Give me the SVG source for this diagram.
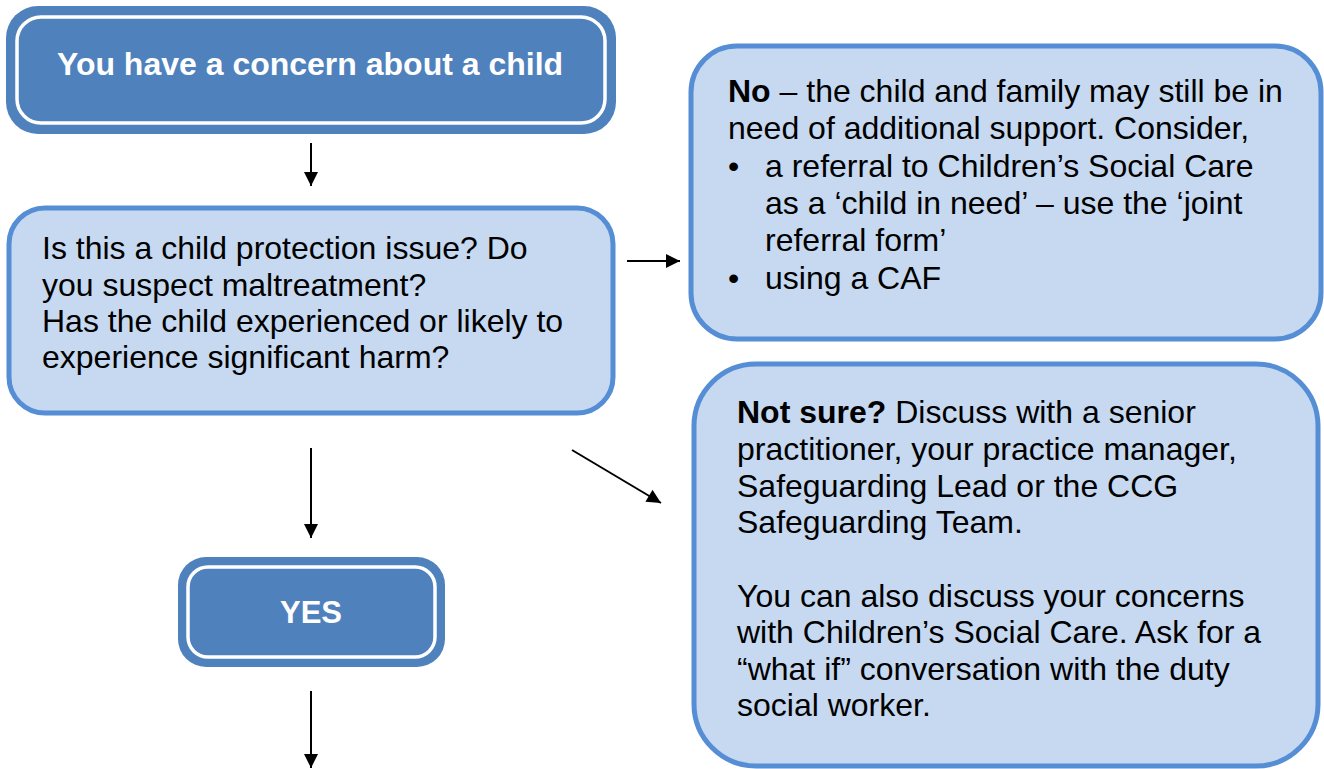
<svg xmlns="http://www.w3.org/2000/svg" width="1324" height="769" viewBox="0 0 1324 769">
<defs>
<marker id="ah" viewBox="0 0 10 10" refX="10" refY="5" markerWidth="16" markerHeight="14" markerUnits="userSpaceOnUse" orient="auto">
<path d="M0,0 L10,5 L0,10 z" fill="#000"/>
</marker>
<style>
.dark{fill:#4f81bd;}
.inner{fill:none;stroke:#fff;stroke-width:3.5;}
.light{fill:#c6d9f1;stroke:#558ed5;stroke-width:5;}
.t{font-family:"Liberation Sans",Arial,sans-serif;font-size:32px;fill:#000;}
.w{font-family:"Liberation Sans",Arial,sans-serif;font-weight:bold;fill:#fff;text-anchor:middle;}
.b{font-weight:bold;}
.c{stroke:#000;stroke-width:2;fill:none;}
</style>
</defs>
<rect width="1324" height="769" fill="#fff"/>
<g id="concern">
<rect class="dark" x="6" y="6" width="610" height="128" rx="32"/>
<rect class="inner" x="17" y="17" width="588" height="106" rx="24"/>
<text class="w" x="310" y="75" font-size="32">You have a concern about a child</text>
</g>
<g id="question">
<rect class="light" x="9" y="208" width="604" height="205" rx="36"/>
<text class="t" x="42" y="259">Is this a child protection issue? Do</text>
<text class="t" x="42" y="296">you suspect maltreatment?</text>
<text class="t" x="42" y="332">Has the child experienced or likely to</text>
<text class="t" x="42" y="368">experience significant harm?</text>
</g>
<g id="no">
<rect class="light" x="691" y="46" width="630" height="293" rx="46"/>
<text class="t" x="728" y="102"><tspan class="b">No</tspan> – the child and family may still be in</text>
<text class="t" x="728" y="139">need of additional support. Consider,</text>
<text class="t" x="728" y="177">•</text>
<text class="t" x="765" y="177">a referral to Children’s Social Care</text>
<text class="t" x="765" y="214">as a ‘child in need’ – use the ‘joint</text>
<text class="t" x="765" y="251">referral form’</text>
<text class="t" x="728" y="289">•</text>
<text class="t" x="765" y="289">using a CAF</text>
</g>
<g id="notsure">
<rect class="light" x="694" y="364" width="624" height="402" rx="62"/>
<text class="t" x="737" y="423"><tspan class="b">Not sure?</tspan> Discuss with a senior</text>
<text class="t" x="737" y="460">practitioner, your practice manager,</text>
<text class="t" x="737" y="497">Safeguarding Lead or the CCG</text>
<text class="t" x="737" y="533">Safeguarding Team.</text>
<text class="t" x="737" y="607">You can also discuss your concerns</text>
<text class="t" x="737" y="643">with Children’s Social Care. Ask for a</text>
<text class="t" x="737" y="680">“what if” conversation with the duty</text>
<text class="t" x="737" y="716">social worker.</text>
</g>
<g id="yes">
<rect class="dark" x="178" y="557" width="267" height="110" rx="28"/>
<rect class="inner" x="188" y="567" width="247" height="90" rx="20"/>
<text class="w" x="311" y="623" font-size="31">YES</text>
</g>
<g id="connectors">
<line class="c" x1="311" y1="143" x2="311" y2="186" marker-end="url(#ah)"/>
<line class="c" x1="627" y1="261" x2="680" y2="261" marker-end="url(#ah)"/>
<line class="c" x1="572" y1="450" x2="661" y2="503" marker-end="url(#ah)"/>
<line class="c" x1="311" y1="448" x2="311" y2="538" marker-end="url(#ah)"/>
<line class="c" x1="311" y1="691" x2="311" y2="768" marker-end="url(#ah)"/>
</g>
</svg>
